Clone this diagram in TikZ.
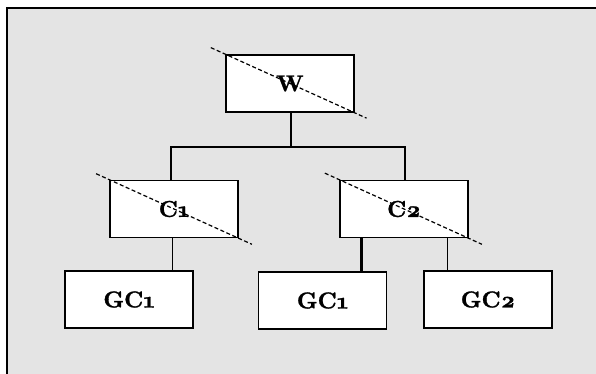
\documentclass[tikz,border=0pt]{standalone}
\usepackage{fontspec}
\usetikzlibrary{calc}
\newfontfamily\heavyfont{lmroman10-bold.otf}[FakeBold=1.2, Numbers=OldStyle]
\definecolor{bggray}{RGB}{228,228,228}
\tikzset{
  box/.style={draw=black, fill=white, line width=1.8pt, minimum width=128pt, minimum height=57pt,
    inner sep=0pt, font=\fontsize{23}{27}\selectfont\heavyfont},
  conn/.style={line width=1.7pt},
  thickconn/.style={line width=2.7pt},
  cross/.style={dash pattern=on 4pt off 2.5pt, line width=1.2pt},
}
\begin{document}
\begin{tikzpicture}[x=1pt,y=-1pt]
\useasboundingbox (0,0) rectangle (596,374);
\fill[bggray] (6,7) rectangle (596,374);
\draw[line width=2.2pt] (7,374) -- (7,8) -- (596,8);
% nodes
\node[box] (W)  at (290,83.5) {W};
\node[box] (C1) at (174,209) {C1};
\node[box] (C2) at (404,209) {C2};
\node[box] (G1) at (129,299.5) {GC1};
\node[box] (G2) at (322.5,300.5) {GC1};
\node[box] (G3) at (488,299.5) {GC2};
% connector points
\coordinate (bar) at (291,147);
\coordinate (bl) at (171,147);
\coordinate (br) at (405,147);
\coordinate (s1) at (172.5,0);
\coordinate (s2) at (361.5,0);
\coordinate (s3) at (447.5,0);
% connectors
\draw[conn] (W.south -| bar) -- (bar);
\draw[thickconn, line cap=rect] (bl) -- (br);
\draw[thickconn] (bl) -- (C1.north -| bl);
\draw[thickconn] (br) -- (C2.north -| br);
\draw[conn] (C1.south -| s1) -- (G1.north -| s1);
\draw[thickconn] (C2.south -| s2) -- (G2.north -| s2);
\draw[conn] (C2.south -| s3) -- (G3.north -| s3);
% crossing dashed lines
\draw[cross] ($(W.north west)!-0.11!(W.south east)$) -- ($(W.north west)!1.09!(W.south east)$);
\draw[cross] ($(C1.north west)!-0.1!(C1.south east)$) -- ($(C1.north west)!1.1!(C1.south east)$);
\draw[cross] ($(C2.north west)!-0.11!(C2.south east)$) -- ($(C2.north west)!1.1!(C2.south east)$);
\end{tikzpicture}
\end{document}
